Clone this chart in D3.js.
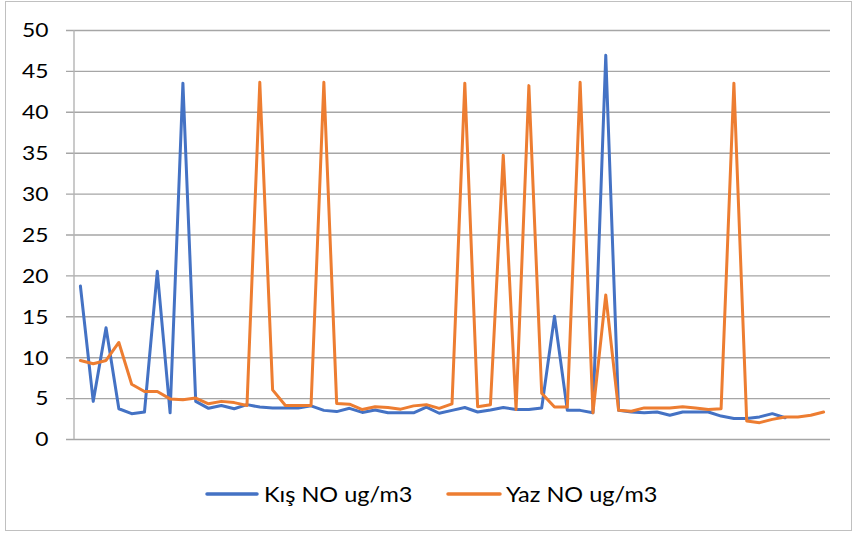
<!DOCTYPE html>
<html>
<head>
<meta charset="utf-8">
<script src="https://cdn.jsdelivr.net/npm/d3@7"></script>
<style>
  html, body { margin: 0; padding: 0; background: #fff; }
  svg { display: block; }
  text { font-family: "Lato", "Liberation Sans", sans-serif; fill: #000; }
</style>
</head>
<body>
<svg id="chart" width="857" height="536"></svg>
<script>
// ---- data ----
const seriesNames = ["Kış NO ug/m3", "Yaz NO ug/m3"];
const seriesColors = ["#4472C4", "#ED7D31"];
const yTicks = [0, 5, 10, 15, 20, 25, 30, 35, 40, 45, 50];
const categoryCount = 59;
const kisValues = [
  18.7, 4.6, 13.6, 3.7, 3.1, 3.3, 20.5, 3.2, 43.5, 4.6,
  3.75, 4.1, 3.7, 4.2, 3.9, 3.8, 3.8, 3.8, 4.05, 3.5,
  3.35, 3.75, 3.25, 3.55, 3.2, 3.2, 3.2, 3.9, 3.15, 3.5,
  3.85, 3.3, 3.55, 3.85, 3.6, 3.6, 3.8, 15.0, 3.5, 3.5,
  3.2, 46.9, 3.5, 3.3, 3.2, 3.3, 2.9, 3.3, 3.3, 3.3,
  2.8, 2.5, 2.5, 2.7, 3.1, 2.6
];
const yazValues = [
  9.6, 9.2, 9.6, 11.8, 6.7, 5.8, 5.8, 4.9, 4.8, 5.0,
  4.3, 4.6, 4.45, 4.1, 43.6, 6.0, 4.1, 4.1, 4.1, 43.6,
  4.35, 4.25, 3.6, 3.95, 3.85, 3.65, 4.05, 4.2, 3.75, 4.3,
  43.5, 3.95, 4.2, 34.7, 3.6, 43.2, 5.6, 3.9, 3.9, 43.6,
  3.2, 17.6, 3.5, 3.4, 3.8, 3.8, 3.8, 3.95, 3.8, 3.6,
  3.7, 43.5, 2.2, 2.0, 2.4, 2.7, 2.7, 2.9, 3.3
];

// ---- chart ----
const svg = d3.select("#chart");

// outer border
svg.append("rect")
  .attr("x", 5.5).attr("y", 1.5)
  .attr("width", 846).attr("height", 529)
  .attr("fill", "#fff")
  .attr("stroke", "#c0c0c0").attr("stroke-width", 1);

const plot = { left: 74, right: 830, top: 30, bottom: 439 };
const labelRight = 48.5;

const x = d3.scalePoint()
  .domain(d3.range(categoryCount))
  .range([plot.left, plot.right])
  .padding(0.5);

const y = d3.scaleLinear()
  .domain([0, 50])
  .range([plot.bottom, plot.top]);

// gridlines + labels via axis
const yAxis = d3.axisLeft(y)
  .tickValues(yTicks)
  .tickSize(-(plot.right - plot.left + 8))
  .tickPadding(0)
  .tickFormat(d3.format("d"));

const gy = svg.append("g")
  .attr("transform", `translate(${plot.left - 8},0)`)
  .call(yAxis);
gy.select(".domain").remove();
gy.selectAll(".tick line")
  .attr("x1", 0)
  .attr("x2", plot.right - plot.left + 8)
  .attr("stroke", "#a6a6a6")
  .attr("stroke-width", 1.4);
gy.selectAll(".tick text")
  .attr("x", 0)
  .attr("dy", "0.36em")
  .attr("transform", `translate(${labelRight - (plot.left - 8)},0) scale(1.2,1)`)
  .attr("text-anchor", "end")
  .style("font-size", "19px")
  .style("font-family", "Lato, 'Liberation Sans', sans-serif")
  .attr("fill", "#000");

// vertical axis line
svg.append("line")
  .attr("x1", plot.left).attr("x2", plot.left)
  .attr("y1", plot.top).attr("y2", plot.bottom)
  .attr("stroke", "#b4b4b4").attr("stroke-width", 1.4);

// lines
const line = d3.line()
  .x((d, i) => x(i))
  .y(d => y(d));

[kisValues, yazValues].forEach((vals, k) => {
  svg.append("path")
    .datum(vals)
    .attr("fill", "none")
    .attr("stroke", seriesColors[k])
    .attr("stroke-width", 3)
    .attr("stroke-linejoin", "round")
    .attr("stroke-linecap", "round")
    .attr("d", line);
});

// legend
const legendItems = [
  { x0: 207, x1: 257, tx: 264 },
  { x0: 448, x1: 500, tx: 506 }
];
const legY = 494;
legendItems.forEach((it, k) => {
  svg.append("line")
    .attr("x1", it.x0).attr("x2", it.x1)
    .attr("y1", legY).attr("y2", legY)
    .attr("stroke", seriesColors[k])
    .attr("stroke-width", 3.5)
    .attr("stroke-linecap", "round");
  svg.append("text")
    .attr("x", 0).attr("y", 0)
    .attr("dy", "0.36em")
    .attr("transform", `translate(${it.tx},${legY}) scale(1.12,1)`)
    .style("font-size", "21px")
    .text(seriesNames[k]);
});
</script>
</body>
</html>
